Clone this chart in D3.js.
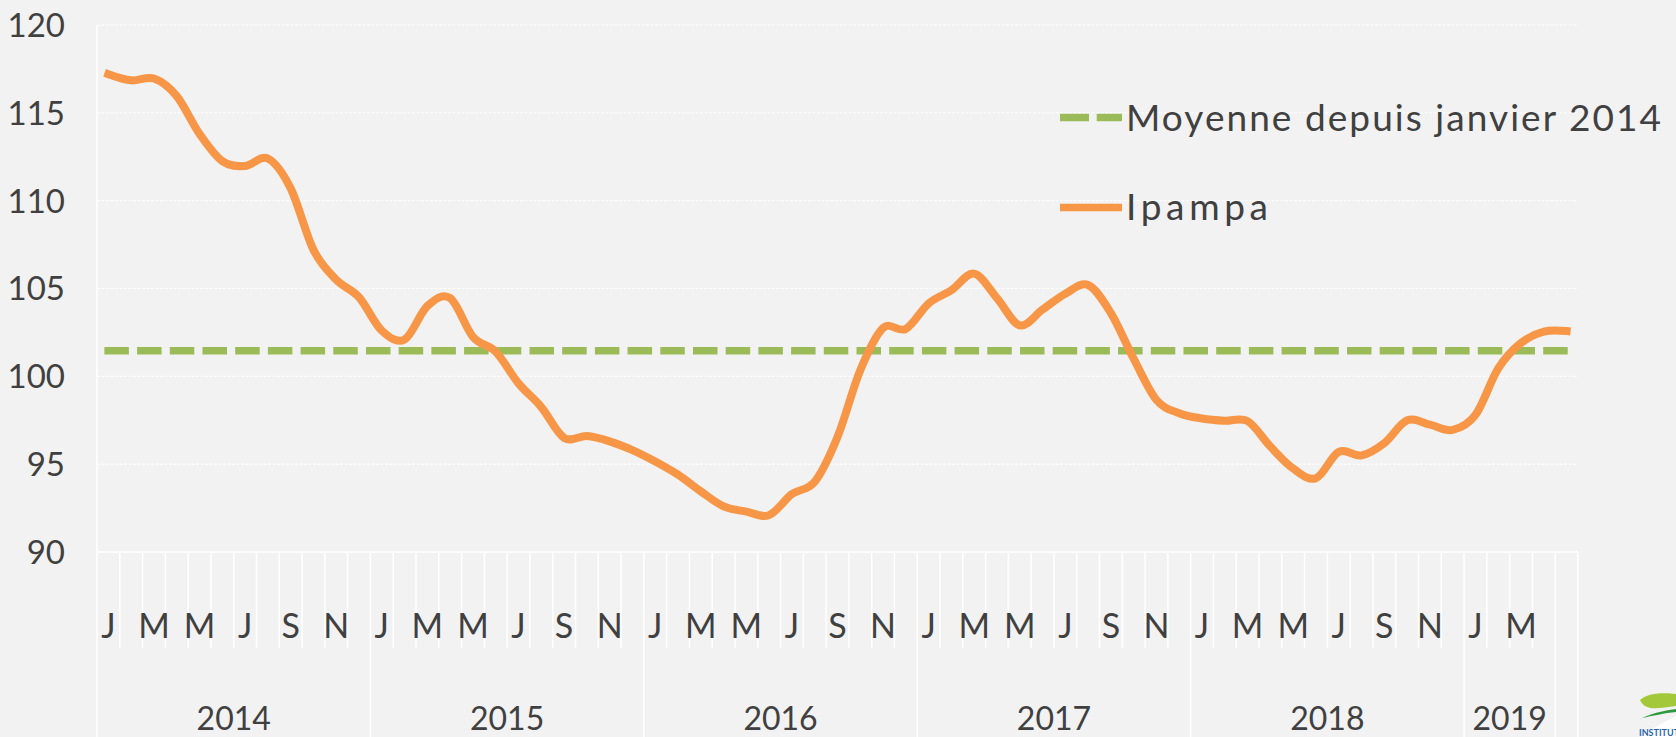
<!DOCTYPE html>
<meta charset="utf-8">
<title>Ipampa</title>
<script src="https://d3js.org/d3.v7.min.js"></script>
<style>
  body { margin: 0; background: #f2f2f2; }
  text { font-family: Lato, "Open Sans", sans-serif; fill: #404040; }
</style>
<div id="chart"></div>
<script>
// data
var monthNames = ["J", "F", "M", "A", "M", "J", "J", "A", "S", "O", "N", "D"];
var yearLabels = ["2014", "2015", "2016", "2017", "2018", "2019", ""];
var yearMonths = [12, 12, 12, 12, 12, 4, 1];
var yTicks = [90, 95, 100, 105, 110, 115, 120];

var ipampa = [
  117.2, 116.85, 116.95, 115.95, 113.8, 112.25, 111.97, 112.4, 110.7, 107.2, 105.5, 104.5,   // 2014
  102.6, 102.1, 104.0, 104.45, 102.25, 101.4, 99.6, 98.25, 96.5, 96.6, 96.3, 95.8,           // 2015
  95.15, 94.4, 93.45, 92.6, 92.3, 92.1, 93.3, 94.0, 96.55, 100.35, 102.75, 102.7,           // 2016
  104.15, 104.9, 105.85, 104.45, 102.9, 103.8, 104.7, 105.2, 103.6, 101.0, 98.65, 97.9,     // 2017
  97.6, 97.47, 97.45, 96.0, 94.75, 94.2, 95.7, 95.5, 96.2, 97.5, 97.25, 96.95,             // 2018
  97.8, 100.45, 101.9, 102.55, 102.58                                                       // 2019
];
var moyenne = 101.45;

var W = 1676, H = 737;
var plot = {left: 97, right: 1578, top: 25, bottom: 552};

// categories: one per month, plus the trailing blank one
var cats = [];
yearLabels.forEach(function (y, gi) {
  for (var m = 0; m < yearMonths[gi]; m++) {
    cats.push({year: y, label: y === "" ? "" : (m % 2 === 0 ? monthNames[m] : "")});
  }
});

var svg = d3.select("#chart").append("svg")
  .attr("width", W).attr("height", H);

svg.append("rect").attr("width", W).attr("height", H).attr("fill", "#f2f2f2");

var x = d3.scaleBand()
  .domain(d3.range(cats.length))
  .range([plot.left, plot.right])
  .padding(0);

var y = d3.scaleLinear()
  .domain([90, 120])
  .range([plot.bottom, plot.top]);

// stretch a text to the width it has in the original (wider font there)
function fitWidth(sel, target) {
  sel.each(function () {
    var n = this.getNumberOfChars();
    var w = this.getComputedTextLength();
    if (n > 1) d3.select(this).style("letter-spacing", ((target - w) / (n - 1)) + "px");
  });
}

// horizontal gridlines
svg.append("g").selectAll("line")
  .data(yTicks.filter(function (d) { return d > 90; }))
  .enter().append("line")
  .attr("x1", plot.left).attr("x2", plot.right)
  .attr("y1", function (d) { return y(d); })
  .attr("y2", function (d) { return y(d); })
  .attr("stroke", "#ffffff")
  .attr("stroke-width", 1)
  .attr("stroke-dasharray", "3,1.5");

// y axis labels
svg.append("g").selectAll("text")
  .data(yTicks)
  .enter().append("text")
  .attr("x", 65)
  .attr("y", function (d) { return y(d); })
  .attr("dy", "0.36em")
  .attr("text-anchor", "end")
  .style("font-size", "33px")
  .text(function (d) { return d; });

// category axis line
svg.append("line")
  .attr("x1", plot.left).attr("x2", plot.right)
  .attr("y1", y(90)).attr("y2", y(90))
  .attr("stroke", "#ffffff").attr("stroke-width", 1.5);

// month separators, year separators run to the bottom
var bounds = d3.range(cats.length + 1);
var yearStarts = [0];
yearMonths.forEach(function (n, i) { yearStarts.push(yearStarts[i] + n); });

svg.append("g").selectAll("line")
  .data(bounds)
  .enter().append("line")
  .attr("x1", function (i) { return i < cats.length ? x(i) : plot.right; })
  .attr("x2", function (i) { return i < cats.length ? x(i) : plot.right; })
  .attr("y1", function (i) { return i === 0 ? plot.top : plot.bottom; })
  .attr("y2", function (i) { return yearStarts.indexOf(i) >= 0 ? H : 648; })
  .attr("stroke", "#ffffff")
  .attr("stroke-width", 1.5);

// month labels
svg.append("g").selectAll("text")
  .data(cats)
  .enter().append("text")
  .attr("x", function (d, i) { return x(i) + x.bandwidth() / 2; })
  .attr("y", 638)
  .attr("text-anchor", "middle")
  .style("font-size", "34px")
  .text(function (d) { return d.label; });

// year labels
svg.append("g").selectAll("text")
  .data(yearLabels)
  .enter().append("text")
  .attr("x", function (d, i) {
    return (x(yearStarts[i]) + x(yearStarts[i + 1] - 1) + x.bandwidth()) / 2;
  })
  .attr("y", 730)
  .attr("text-anchor", "middle")
  .style("font-size", "32px")
  .text(function (d) { return d; });

var cx = function (i) { return x(i) + x.bandwidth() / 2; };

// average line
svg.append("line")
  .attr("x1", cx(0) - 4).attr("x2", cx(cats.length - 1) + 4)
  .attr("y1", y(moyenne)).attr("y2", y(moyenne))
  .attr("stroke", "#9bbb59")
  .attr("stroke-width", 7.5)
  .attr("stroke-dasharray", "24.5,8.2");

// Ipampa line
var line = d3.line()
  .x(function (d, i) { return cx(i); })
  .y(function (d) { return y(d); })
  .curve(d3.curveCatmullRom.alpha(0));

svg.append("path")
  .datum(ipampa)
  .attr("d", line)
  .attr("fill", "none")
  .attr("stroke", "#f79646")
  .attr("stroke-width", 8)
  .attr("stroke-linecap", "square");

// legend
var legend = svg.append("g");
legend.append("line")
  .attr("x1", 1060).attr("x2", 1122).attr("y1", 117.5).attr("y2", 117.5)
  .attr("stroke", "#9bbb59").attr("stroke-width", 7.5)
  .attr("stroke-dasharray", "29,7.7");
legend.append("text")
  .attr("x", 1126).attr("y", 130.5)
  .style("font-size", "37px")
  .text("Moyenne depuis janvier 2014")
  .call(fitWidth, 535);
legend.append("line")
  .attr("x1", 1060).attr("x2", 1122).attr("y1", 207.5).attr("y2", 207.5)
  .attr("stroke", "#f79646").attr("stroke-width", 7.5);
legend.append("text")
  .attr("x", 1126).attr("y", 220)
  .style("font-size", "37px")
  .text("Ipampa")
  .call(fitWidth, 142);

// logo fragment in the corner
var logo = svg.append("g");
logo.append("ellipse")
  .attr("cx", 1730).attr("cy", 770).attr("rx", 140).attr("ry", 70)
  .attr("transform", "rotate(-18,1730,770)")
  .attr("fill", "#ffffff");
logo.append("path")
  .attr("d", "M1640,700 C1650,690 1676,694 1676,694 L1676,706 C1660,708 1645,712 1640,700 Z")
  .attr("fill", "#a3c93a");
logo.append("path")
  .attr("d", "M1642,718 C1655,712 1668,710 1676,709 L1676,712 C1665,713 1652,716 1642,718 Z")
  .attr("fill", "#2e9a3e");
logo.append("text")
  .attr("x", 1639).attr("y", 736)
  .style("font-size", "9px").style("font-weight", "bold")
  .style("fill", "#2a64b0")
  .text("INSTITUT");
</script>
